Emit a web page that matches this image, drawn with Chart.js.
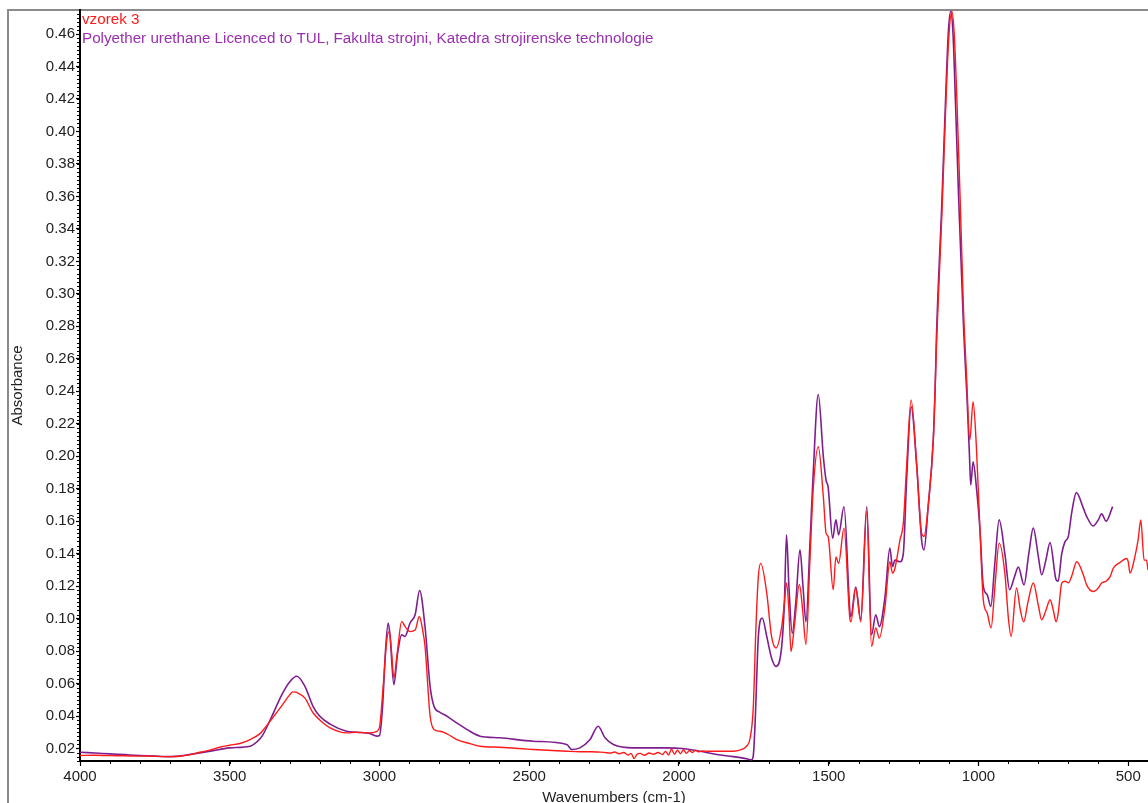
<!DOCTYPE html>
<html><head><meta charset="utf-8">
<script src="https://cdn.jsdelivr.net/npm/chart.js@4.4.1/dist/chart.umd.min.js"></script>
<style>html,body{margin:0;padding:0;background:#fff;overflow:hidden}#wrap{width:1148px;height:803px;position:relative}</style>
</head><body><div id="wrap"><canvas id="c" width="1148" height="803"></canvas></div>
<script>
// ---- DATA ----
const seriesNames = ["vzorek 3", "Polyether urethane Licenced to TUL, Fakulta strojni, Katedra strojirenske technologie"];

const redWn = [4000,3950,3900,3850,3800,3770,3750,3720,3700,3666,3633,3600,3566,3533,3500,3466,3432,3400,3392,3359,3326,3300,3289,3276,3249,3222,3190,3165,3110,3076,3032,3009,3000,2987,2975,2967,2960,2952,2940,2926,2915,2898,2881,2867,2855,2848,2831,2818,2798,2776,2742,2698,2664,2598,2487,2375,2331,
2290,2270,2250,2230,2215,2200,2185,2170,2160,2150,2140,2130,2115,2100,2085,2070,2055,2045,2035,2025,2015,2005,1995,1985,1975,1965,1955,1945,1935,1920,1900,
1874,1819,1786,1774,1763,1752,1743,1735,1727,1707,1691,1676,1657,1648,1641,1633,1626,1615,1598,1587,1576,1563,1552,1535,1518,1509,1502,1485,1476,1467,1449,1429,1426,1410,1393,1373,1357,1343,1331,1312,1296,1287,1279,1262,1251,1240,1225,1206,1190,1182,1168,1151,1145,1140,1122,1110,1100,1089,1081,1072,1061,1050,1040,1029,1018,1007,995,984,971,958,945,931,912,900,891,873,860,849,835,817,800,789,775,761,750,741,734,722,711,700,689,672,650,639,617,600,589,574,560,550,528,506,500,494,478,467,458,447,439,434];
const redAbs = [0.0157,0.0158,0.0156,0.0155,0.0153,0.0154,0.0152,0.0150,0.0150,0.0152,0.0162,0.0177,0.0190,0.0208,0.0220,0.0231,0.0255,0.0290,0.0306,0.0383,0.0464,0.0530,0.0549,0.0545,0.0510,0.0420,0.0360,0.0327,0.0296,0.0300,0.0296,0.0306,0.0330,0.0600,0.0880,0.0920,0.0800,0.0635,0.0800,0.0983,0.0952,0.0920,0.0930,0.1013,0.0920,0.0830,0.0400,0.0317,0.0306,0.0292,0.0255,0.0230,0.0214,0.0208,0.0194,0.0183,0.0180,
0.0180,0.0178,0.0176,0.0172,0.0178,0.0168,0.0175,0.0160,0.0170,0.0138,0.0165,0.0170,0.0158,0.0172,0.0165,0.0175,0.0163,0.0182,0.0160,0.0195,0.0165,0.0190,0.0168,0.0192,0.0170,0.0188,0.0175,0.0190,0.0180,0.0185,0.0183,
0.0183,0.0183,0.0197,0.0214,0.0260,0.0450,0.0950,0.1260,0.1340,0.1157,0.0890,0.0819,0.0950,0.1100,0.1220,0.1050,0.0798,0.0950,0.1210,0.1050,0.0840,0.1350,0.1790,0.2058,0.1750,0.1526,0.1506,0.1178,0.1380,0.1340,0.1557,0.0993,0.0980,0.1188,0.0980,0.1660,0.0829,0.0942,0.0880,0.1075,0.1350,0.1280,0.1310,0.1485,0.1587,0.1936,0.2346,0.1936,0.1526,0.1506,0.1690,0.2100,0.2400,0.2700,0.3500,0.4120,0.4550,0.4740,0.4600,0.4190,0.3575,0.2900,0.2500,0.2100,0.2335,0.2058,0.1546,0.1116,0.1034,0.0942,0.1200,0.1465,0.1280,0.1000,0.0890,0.1188,0.1050,0.0980,0.1100,0.1219,0.1080,0.0993,0.1050,0.1116,0.1050,0.0980,0.1030,0.1219,0.1230,0.1220,0.1260,0.1350,0.1270,0.1208,0.1167,0.1188,0.1219,0.1230,0.1260,0.1310,0.1345,0.1370,0.1350,0.1280,0.1380,0.1485,0.1608,0.1360,0.1360,0.1300];

const purpleWn = [4000,3950,3900,3850,3800,3750,3700,3650,3600,3533,3500,3432,3410,3392,3359,3326,3300,3276,3249,3222,3200,3165,3110,3076,3032,3009,3000,2990,2980,2971,2965,2952,2940,2926,2915,2898,2881,2866,2848,2831,2818,2798,2776,2742,2698,2664,2598,2487,2375,2358,2331,2297,2270,2247,2219,2153,2041,1990,1930,1874,1819,1774,1758,1752,1746,1743,1735,1722,1707,1691,1676,1657,1648,1641,1633,1622,1610,1596,1586,1576,1563,1552,1535,1518,1509,1502,1487,1476,1467,1449,1429,1426,1410,1393,1373,1357,1343,1331,1312,1296,1287,1279,1262,1251,1240,1225,1206,1190,1182,1168,1151,1145,1140,1122,1110,1101,1093,1085,1077,1066,1049,1038,1030,1026,1018,1007,995,984,971,959,945,931,912,896,881,867,848,832,817,800,789,775,761,741,734,722,711,700,689,673,650,639,617,600,589,574,552];
const purpleAbs = [0.0177,0.0172,0.0167,0.0162,0.0157,0.0153,0.0150,0.0158,0.0173,0.0194,0.0204,0.0214,0.0240,0.0276,0.0400,0.0532,0.0610,0.0645,0.0583,0.0460,0.0400,0.0350,0.0306,0.0300,0.0292,0.0276,0.0280,0.0450,0.0800,0.0973,0.0900,0.0593,0.0780,0.0900,0.0890,0.0973,0.1024,0.1173,0.0950,0.0583,0.0460,0.0423,0.0400,0.0358,0.0306,0.0276,0.0266,0.0245,0.0225,0.0194,0.0204,0.0255,0.0337,0.0266,0.0225,0.0204,0.0204,0.0200,0.0183,0.0163,0.0150,0.0137,0.0130,0.0155,0.0350,0.0500,0.0890,0.1004,0.0890,0.0758,0.0706,0.0829,0.1100,0.1516,0.1200,0.0910,0.1100,0.1423,0.1200,0.0980,0.1450,0.1890,0.2380,0.1997,0.1853,0.1810,0.1495,0.1608,0.1516,0.1690,0.1034,0.1013,0.1194,0.0993,0.1690,0.0900,0.1024,0.0950,0.1137,0.1434,0.1320,0.1360,0.1350,0.1400,0.1853,0.2305,0.1936,0.1485,0.1423,0.1690,0.2100,0.2400,0.2756,0.3575,0.4190,0.4600,0.4740,0.4600,0.4190,0.3575,0.2756,0.2346,0.2000,0.1823,0.1966,0.1810,0.1546,0.1200,0.1147,0.1075,0.1350,0.1608,0.1400,0.1178,0.1250,0.1317,0.1208,0.1400,0.1557,0.1380,0.1270,0.1360,0.1468,0.1240,0.1230,0.1400,0.1474,0.1506,0.1650,0.1776,0.1680,0.1630,0.1570,0.1608,0.1645,0.1600,0.1690];

const xTickValues = [4000,3500,3000,2500,2000,1500,1000,500];
const yTickValues = [0.02,0.04,0.06,0.08,0.10,0.12,0.14,0.16,0.18,0.20,0.22,0.24,0.26,0.28,0.30,0.32,0.34,0.36,0.38,0.40,0.42,0.44,0.46];
const xMin = 434, xMax = 4000, yMin = 0.0123, yMax = 0.4748;

// ---- STYLE ----
const RED = '#ff1a1a', PURPLE = '#7e1e8e', PURPLE_TXT = '#9a2fb0';
const FONT = '"Liberation Sans", Arial, Helvetica, sans-serif';

const toPts = (xs, ys) => xs.map((v, i) => ({x: v, y: ys[i]}));

const bgFrame = {
  id: 'bgFrame',
  beforeDraw(chart) {
    const {ctx, chartArea: a} = chart;
    ctx.save();
    ctx.fillStyle = '#fff';
    ctx.fillRect(0, 0, chart.width, chart.height);
    ctx.strokeStyle = '#8a8a8a';
    ctx.lineWidth = 2;
    ctx.beginPath();
    ctx.moveTo(8, chart.height);
    ctx.lineTo(8, a.top);
    ctx.lineTo(chart.width, a.top);
    ctx.stroke();
    ctx.restore();
  }
};

const minorTicks = {
  id: 'minorTicks',
  afterDraw(chart) {
    const {ctx, chartArea: a, scales: {x, y}} = chart;
    ctx.save();
    ctx.strokeStyle = '#000';
    ctx.lineWidth = 1;
    ctx.beginPath();
    for (let v = 4000; v >= 500; v -= 100) {
      const px = Math.round(x.getPixelForValue(v)) + 0.5;
      if (px < a.left - 1 || px > a.right) continue;
      ctx.moveTo(px, a.bottom); ctx.lineTo(px, a.bottom + 3);
    }
    for (let k = 0; k * 0.0025 + 0.0125 <= yMax; k++) {
      const v = 0.0125 + k * 0.0025;
      if (v < yMin) continue;
      const py = Math.round(y.getPixelForValue(v)) + 0.5;
      ctx.moveTo(a.left, py); ctx.lineTo(a.left - 3, py);
    }
    ctx.stroke();
    // series name texts
    ctx.font = '15.2px ' + FONT;
    ctx.textBaseline = 'middle';
    ctx.textAlign = 'left';
    ctx.fillStyle = RED;
    ctx.fillText(seriesNames[0], a.left + 2, a.top + 10);
    ctx.fillStyle = PURPLE_TXT;
    ctx.fillText(seriesNames[1], a.left + 2, a.top + 29);
    ctx.restore();
  }
};

new Chart(document.getElementById('c'), {
  type: 'line',
  data: {
    datasets: [
      {label: seriesNames[0], data: toPts(redWn, redAbs), borderColor: RED, borderWidth: 1.4, pointRadius: 0, cubicInterpolationMode: 'monotone', fill: false},
      {label: seriesNames[1], data: toPts(purpleWn, purpleAbs), borderColor: PURPLE, borderWidth: 1.6, pointRadius: 0, cubicInterpolationMode: 'monotone', fill: false}
    ]
  },
  options: {
    responsive: false,
    animation: false,
    devicePixelRatio: 1,
    parsing: false,
    layout: {padding: {top: 9, left: 0, right: 0, bottom: 0}},
    plugins: {legend: {display: false}, tooltip: {enabled: false}},
    scales: {
      x: {
        type: 'linear', reverse: true, min: xMin, max: xMax,
        afterBuildTicks: s => { s.ticks = xTickValues.map(v => ({value: v})); },
        afterFit: s => { s.height = 42; },
        ticks: {font: {family: FONT, size: 15}, color: '#222', padding: 2, maxRotation: 0, autoSkip: false, callback: v => String(v)},
        grid: {display: true, drawOnChartArea: false, drawTicks: true, tickLength: 5, tickColor: '#000', tickWidth: 1.2},
        border: {display: true, color: '#000', width: 2},
        title: {display: true, text: 'Wavenumbers (cm-1)', font: {family: FONT, size: 15}, color: '#222', padding: {top: 0, bottom: -4}}
      },
      y: {
        type: 'linear', min: yMin, max: yMax,
        afterBuildTicks: s => { s.ticks = yTickValues.map(v => ({value: v})); },
        afterFit: s => { s.width = 80; },
        ticks: {font: {family: FONT, size: 15}, color: '#222', padding: 1, autoSkip: false, callback: v => v.toFixed(2)},
        grid: {display: true, drawOnChartArea: false, drawTicks: true, tickLength: 4, tickColor: '#000', tickWidth: 1.2},
        border: {display: true, color: '#000', width: 2},
        title: {display: true, text: 'Absorbance', font: {family: FONT, size: 15}, color: '#222', padding: {top: 9, bottom: 0}}
      }
    }
  },
  plugins: [bgFrame, minorTicks]
});
</script></body></html>
